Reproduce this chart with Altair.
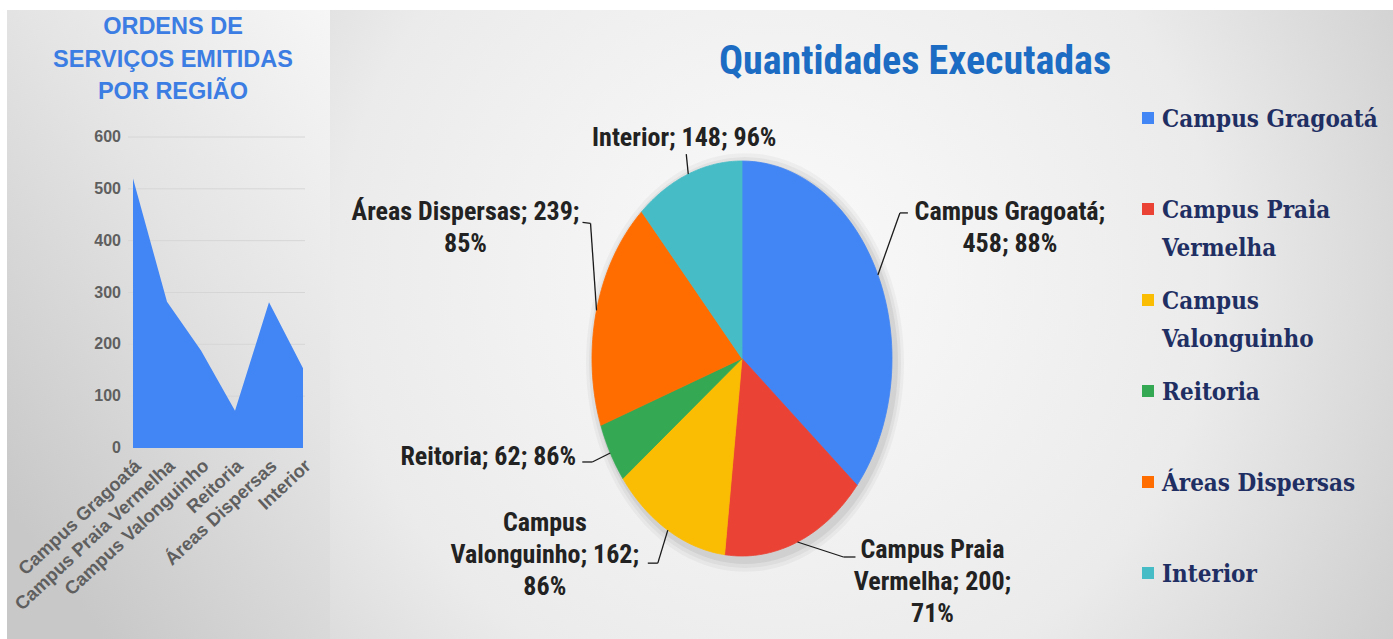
import textwrap
import altair as alt
import pandas as pd

# ---------------- data ----------------
regions = ["Campus Gragoatá", "Campus Praia Vermelha", "Campus Valonguinho",
           "Reitoria", "Áreas Dispersas", "Interior"]
orders_issued = [520, 282, 188, 72, 281, 154]      # left area chart
qty_executed = [458, 200, 162, 62, 239, 148]       # pie values
pct_executed = [88, 71, 86, 86, 85, 96]            # % shown in pie labels
colors = ["#4285F4", "#EA4335", "#FBBC04", "#34A853", "#FF6D01", "#46BDC6"]
y_ticks = [0, 100, 200, 300, 400, 500, 600]
legend_labels = ["Campus Gragoatá", "Campus Praia\nVermelha", "Campus\nValonguinho",
                 "Reitoria", "Áreas Dispersas", "Interior"]
left_title = "ORDENS DE\nSERVIÇOS EMITIDAS\nPOR REGIÃO"
right_title = "Quantidades Executadas"

# ---------------- layout / style ----------------
W, H = 1393, 639
wrap_widths = [16, 14, 17, 30, 21, 30]
# first-line offset (px) of each label from its slice mid-edge point, and leader polylines
label_offsets = [(132, -63), (135, 8), (-123, -7), (-122, 4), (-131, -98), (-4, -36)]
leader_pts = [
    [(0, 0), (22, -62), (30, -62)],
    [(0, 0), (46, 15), (58, 15)],
    [(0, 0), (-10, 33), (-20, 33)],
    [(0, 0), (-18, 9), (-28, 9)],
    [(0, 0), (-6, -87), (-14, -88)],
    [(0, 0), (-2, -20)],
]
LABEL_FONT = "Liberation Sans Narrow, Roboto Condensed, DejaVu Sans Condensed, Roboto"
AX_FONT = "Liberation Sans"
AX_COLOR = "#5f5f5f"

pie_labels = ["\n".join(textwrap.wrap(f"{n}; {q}; {p}%", w))
              for n, q, p, w in zip(regions, qty_executed, pct_executed, wrap_widths)]

area_x = alt.Scale(type="point", domain=regions, range=[133, 303], padding=0)
area_y = alt.Scale(domain=[0, 600], range=[448, 137], nice=False, zero=True)
pie_x = alt.Scale(domain=[-1, 1], range=[592, 892], nice=False, zero=False)
pie_y = alt.Scale(domain=[-1, 1], range=[556, 161], nice=False, zero=False)
col_scale = alt.Scale(domain=regions, range=colors)
leg_y = alt.Scale(type="point", domain=regions, range=[118, 573], padding=0)

one = alt.Data(values=[{}])

# ---------------- backgrounds ----------------
bg_left = alt.Chart(one).mark_rect(
    fill=alt.Gradient(gradient="linear", x1=1, y1=0, x2=0.3, y2=1,
                      stops=[alt.GradientStop(color="#f6f6f6", offset=0),
                             alt.GradientStop(color="#e4e4e4", offset=0.45),
                             alt.GradientStop(color="#c8c8c8", offset=1)])
).encode(x=alt.value(7), x2=alt.value(330), y=alt.value(10), y2=alt.value(H))

bg_main = alt.Chart(one).mark_rect(
    fill=alt.Gradient(gradient="radial", x1=0.42, y1=0.45, r1=0, x2=0.42, y2=0.45, r2=0.75,
                      stops=[alt.GradientStop(color="#fafafa", offset=0),
                             alt.GradientStop(color="#ebebeb", offset=0.55),
                             alt.GradientStop(color="#c6c6c6", offset=1)])
).encode(x=alt.value(330), x2=alt.value(W), y=alt.value(10), y2=alt.value(H))

# ---------------- left area chart ----------------
area_df = pd.DataFrame({"region": regions, "orders": orders_issued})
tick_df = pd.DataFrame({"tick": y_ticks})

grid = alt.Chart(tick_df).transform_filter("datum.tick > 0").mark_rule(
    color="#d6d6d6", strokeWidth=1).encode(
    y=alt.Y("tick:Q", scale=area_y, axis=None),
    x=alt.value(128), x2=alt.value(305))

area = alt.Chart(area_df).mark_area(color="#4285F4", opacity=1).encode(
    x=alt.X("region:O", scale=area_x, sort=regions, axis=None),
    y=alt.Y("orders:Q", scale=area_y, axis=None))

y_labels = alt.Chart(tick_df).mark_text(
    align="right", baseline="middle", font=AX_FONT, fontSize=16, fontWeight="bold",
    color=AX_COLOR).encode(
    x=alt.value(121),
    y=alt.Y("tick:Q", scale=area_y, axis=None),
    text=alt.Text("tick:Q"))

x_labels = alt.Chart(area_df).mark_text(
    angle=317, align="right", baseline="middle", font=AX_FONT, fontSize=18.5,
    fontWeight="bold", color=AX_COLOR, xOffset=5).encode(
    x=alt.X("region:O", scale=area_x, sort=regions, axis=None),
    y=alt.value(463),
    text="region:N")

title_left = alt.Chart(one).mark_text(
    text=left_title, lineBreak="\n", font=AX_FONT, fontSize=23.5, fontWeight="bold",
    color="#3b7de3", align="center", baseline="middle", lineHeight=32.5
).encode(x=alt.value(173), y=alt.value(27))

# ---------------- pie (elliptical) ----------------
pie_df = pd.DataFrame({"region": regions, "qty": qty_executed, "pct": pct_executed,
                       "label": pie_labels, "idx": list(range(len(regions)))})

pie_base = alt.Chart(pie_df).transform_window(
    cum="sum(qty)", sort=[alt.SortField("idx")], frame=[None, 0]
).transform_joinaggregate(total="sum(qty)").transform_calculate(
    a0="2*PI*(datum.cum-datum.qty)/datum.total",
    a1="2*PI*datum.cum/datum.total",
    amid="PI*(2*datum.cum-datum.qty)/datum.total",
).transform_calculate(ex="sin(datum.amid)", ey="cos(datum.amid)")

# soft drop shadow behind the pie (decoration)
shadow_layers = []
for k, (s, op) in enumerate([(1.06, 0.035), (1.04, 0.045), (1.02, 0.06)]):
    shadow_layers.append(
        alt.Chart(one).transform_calculate(ks="sequence(0, 121)").transform_flatten(
            ["ks"]).transform_calculate(
            sx=f"{s} * sin(2*PI*datum.ks/120)", sy=f"{s} * cos(2*PI*datum.ks/120)"
        ).mark_line(fill="#000000", fillOpacity=op, strokeWidth=0, xOffset=3, yOffset=4
        ).encode(x=alt.X("sx:Q", scale=pie_x, axis=None),
                 y=alt.Y("sy:Q", scale=pie_y, axis=None),
                 order=alt.Order("ks:Q")))

slices = pie_base.transform_calculate(ks="sequence(0, 62)").transform_flatten(
    ["ks"]).transform_calculate(
    ang="datum.a0 + (datum.a1 - datum.a0) * (datum.ks - 1) / 59",
).transform_calculate(
    px="(datum.ks == 0 || datum.ks == 61) ? 0 : sin(datum.ang)",
    py="(datum.ks == 0 || datum.ks == 61) ? 0 : cos(datum.ang)",
).mark_line(strokeWidth=0.8, strokeJoin="round").encode(
    x=alt.X("px:Q", scale=pie_x, axis=None),
    y=alt.Y("py:Q", scale=pie_y, axis=None),
    order=alt.Order("ks:Q"),
    detail="region:N",
    fill=alt.Fill("region:N", scale=col_scale, legend=None),
    stroke=alt.Stroke("region:N", scale=col_scale, legend=None),
)

label_layers = []
for i, r in enumerate(regions):
    b = pie_base.transform_filter(alt.datum.region == r)
    pts = leader_pts[i]
    for (p0, p1) in zip(pts[:-1], pts[1:]):
        label_layers.append(b.mark_rule(
            color="#1a1a1a", strokeWidth=1.3,
            xOffset=p0[0], yOffset=p0[1], x2Offset=p1[0], y2Offset=p1[1]
        ).encode(x=alt.X("ex:Q", scale=pie_x, axis=None),
                 y=alt.Y("ey:Q", scale=pie_y, axis=None),
                 x2="ex:Q", y2="ey:Q"))
    dx, dy = label_offsets[i]
    label_layers.append(b.mark_text(
        dx=dx, dy=dy, align="center", baseline="middle", lineBreak="\n",
        font=LABEL_FONT, fontSize=26, fontWeight="bold", color="#222222", lineHeight=32
    ).encode(x=alt.X("ex:Q", scale=pie_x, axis=None),
             y=alt.Y("ey:Q", scale=pie_y, axis=None),
             text="label:N"))

title_right = alt.Chart(one).mark_text(
    text=right_title, font=LABEL_FONT, fontSize=40, fontWeight="bold",
    color="#1c6cc4", align="center", baseline="middle"
).encode(x=alt.value(915), y=alt.value(62))

# ---------------- legend ----------------
leg_df = pd.DataFrame({"region": regions, "legend_label": legend_labels})
leg_sq = alt.Chart(leg_df).mark_square(size=144, opacity=1, filled=True).encode(
    x=alt.value(1148),
    y=alt.Y("region:N", scale=leg_y, axis=None),
    color=alt.Color("region:N", scale=col_scale, legend=None))
leg_txt = alt.Chart(leg_df).mark_text(
    align="left", baseline="alphabetic", dy=9, lineBreak="\n",
    font="DejaVu Serif Condensed, Liberation Serif", fontSize=24, fontWeight="bold",
    color="#1f2f63", lineHeight=38
).encode(x=alt.value(1162),
         y=alt.Y("region:N", scale=leg_y, axis=None),
         text="legend_label:N")

chart = alt.layer(
    bg_left, bg_main, grid, area, y_labels, x_labels, title_left,
    *shadow_layers, slices, *label_layers,
    title_right, leg_sq, leg_txt
).resolve_scale(
    x="independent", y="independent", color="independent",
    fill="independent", stroke="independent"
).properties(
    width=W, height=H, padding=0, autosize="none", background="white"
).configure_view(strokeWidth=0)

chart.save("out.html", embed_options={"renderer": "svg", "actions": False})
